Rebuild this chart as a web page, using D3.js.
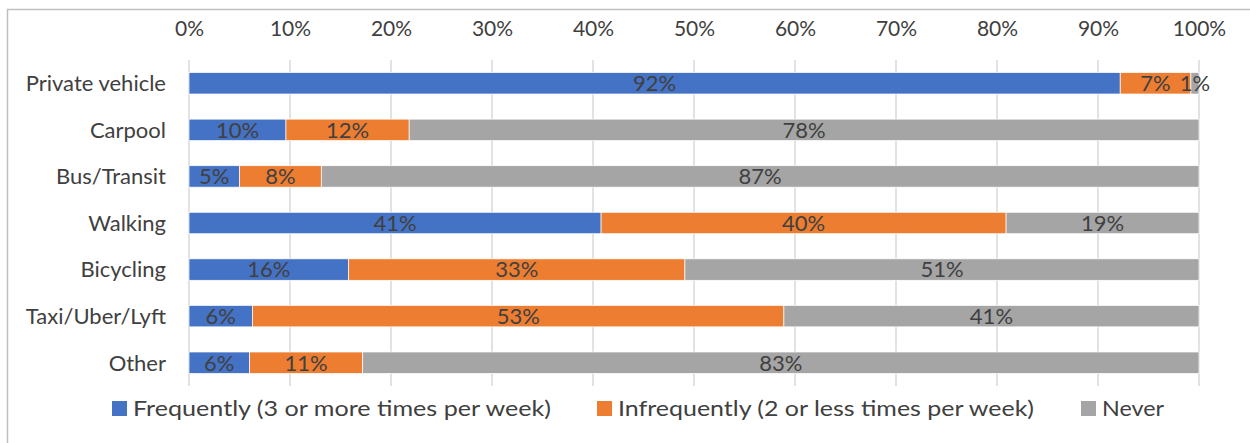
<!DOCTYPE html>
<html>
<head>
<meta charset="utf-8">
<script src="https://cdn.jsdelivr.net/npm/d3@7"></script>
<style>
  body { margin: 0; background: #fff; }
  svg { display: block; font-family: Lato, "Open Sans", sans-serif; }
</style>
</head>
<body>
<div id="chart"></div>
<script>
// categories, top to bottom
var categories = ["Private vehicle", "Carpool", "Bus/Transit", "Walking", "Bicycling", "Taxi/Uber/Lyft", "Other"];
// share of respondents (%)
var frequently = [92.2, 9.6, 5.0, 40.8, 15.8, 6.3, 6.0];
var infrequently = [7.0, 12.2, 8.1, 40.1, 33.3, 52.6, 11.2];
var never = [0.8, 78.2, 86.9, 19.1, 50.9, 41.1, 82.8];
var seriesNames = ["Frequently (3 or more times per week)", "Infrequently (2 or less times per week)", "Never"];
var tickValues = [0, 10, 20, 30, 40, 50, 60, 70, 80, 90, 100];

var colors = ["#4472c4", "#ed7d31", "#a5a5a5"];

var width = 1250, height = 443;
var plotLeft = 189, plotRight = 1199, plotTop = 60, plotBottom = 386;

var svg = d3.select("#chart")
    .append("svg")
    .attr("width", width)
    .attr("height", height);

// chart border
svg.append("rect")
    .attr("x", 7.5)
    .attr("y", 9.5)
    .attr("width", 1260)
    .attr("height", 450)
    .attr("fill", "none")
    .attr("stroke", "#bfbfbf")
    .attr("stroke-width", 1.5);

var x = d3.scaleLinear().domain([0, 100]).range([plotLeft, plotRight]);
var y = d3.scaleBand().domain(categories).range([plotTop, plotBottom])
    .paddingInner(0.54).paddingOuter(0.27);

// gridlines
svg.append("g")
    .selectAll("line")
    .data(tickValues)
    .enter()
    .append("line")
    .attr("x1", function (d) { return x(d); })
    .attr("x2", function (d) { return x(d); })
    .attr("y1", plotTop)
    .attr("y2", plotBottom)
    .attr("stroke", "#d9d9d9")
    .attr("stroke-width", 1.5);

// top axis labels
var xAxis = svg.append("g")
    .attr("transform", "translate(0," + 36 + ")")
    .call(d3.axisTop(x).tickValues(tickValues).tickSize(0).tickPadding(0)
        .tickFormat(function (d) { return d + "%"; }));
xAxis.select(".domain").remove();
xAxis.selectAll("text")
    .attr("font-size", 21)
    .attr("font-family", "Lato, sans-serif")
    .attr("fill", "#404040")
    .attr("dy", 0);

// category labels
svg.append("g")
    .selectAll("text")
    .data(categories)
    .enter()
    .append("text")
    .attr("x", 166)
    .attr("y", function (d) { return y(d) + y.bandwidth() / 2; })
    .attr("dy", "0.36em")
    .attr("text-anchor", "end")
    .attr("font-size", 22)
    .attr("fill", "#404040")
    .text(function (d) { return d; });

// stack
var rows = categories.map(function (c, i) {
    return { cat: c, s0: frequently[i], s1: infrequently[i], s2: never[i] };
});
var stack = d3.stack().keys(["s0", "s1", "s2"]);
var layers = stack(rows);

var layer = svg.append("g")
    .selectAll("g")
    .data(layers)
    .enter()
    .append("g")
    .attr("fill", function (d, i) { return colors[i]; });

layer.selectAll("rect")
    .data(function (d) { return d; })
    .enter()
    .append("rect")
    .attr("x", function (d) { return x(d[0]); })
    .attr("y", function (d) { return y(d.data.cat); })
    .attr("width", function (d) { return x(d[1]) - x(d[0]); })
    .attr("height", y.bandwidth())
    .attr("stroke", "#fff")
    .attr("stroke-width", 0.7);

// data labels
layer.selectAll("text")
    .data(function (d) { return d; })
    .enter()
    .append("text")
    .attr("x", function (d) { return (x(d[0]) + x(d[1])) / 2; })
    .attr("y", function (d) { return y(d.data.cat) + y.bandwidth() / 2; })
    .attr("dy", "0.36em")
    .attr("text-anchor", "middle")
    .attr("font-size", 22)
    .attr("fill", "#404040")
    .text(function (d) { return Math.round(d[1] - d[0]) + "%"; });

// legend
var legendX = [112, 597, 1081];
var legendW = [418, 416, 62];
var legend = svg.append("g")
    .selectAll("g")
    .data(seriesNames)
    .enter()
    .append("g")
    .attr("transform", function (d, i) { return "translate(" + legendX[i] + ",401)"; });

legend.append("rect")
    .attr("width", 15)
    .attr("height", 15)
    .attr("fill", function (d, i) { return colors[i]; });

legend.append("text")
    .attr("x", 21)
    .attr("y", 7.5)
    .attr("dy", "0.36em")
    .attr("font-size", 22)
    .attr("fill", "#404040")
    .attr("textLength", function (d, i) { return legendW[i]; })
    .attr("lengthAdjust", "spacingAndGlyphs")
    .text(function (d) { return d; });
</script>
</body>
</html>
